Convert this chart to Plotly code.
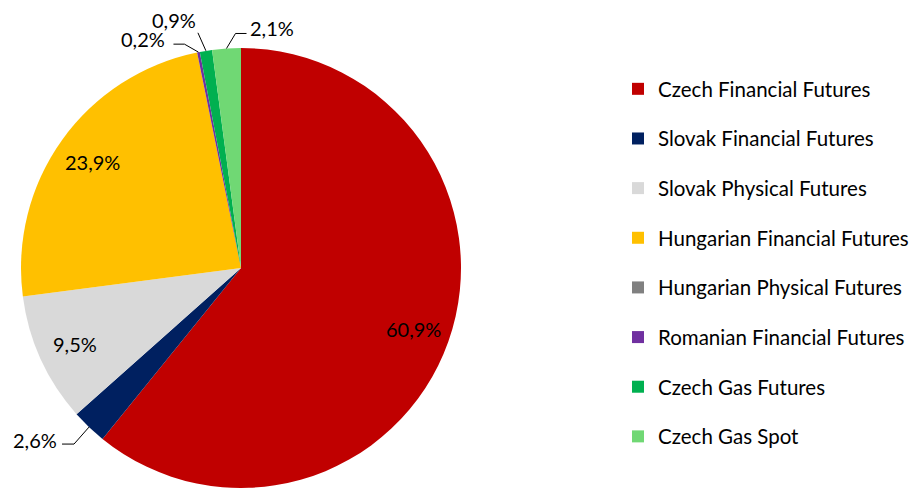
import math
import plotly.graph_objects as go

# ---- data ----
labels = ["Czech Financial Futures", "Slovak Financial Futures", "Slovak Physical Futures",
          "Hungarian Financial Futures", "Hungarian Physical Futures", "Romanian Financial Futures",
          "Czech Gas Futures", "Czech Gas Spot"]
values = [60.9, 2.6, 9.5, 23.9, 0.0, 0.2, 0.9, 2.1]
colors = ["#C00000", "#002060", "#D9D9D9", "#FFC000", "#808080", "#7030A0", "#00B050", "#70D874"]

# ---- layout params (pixels) ----
W, H = 917, 488
CX, CY, R = 241, 268, 220
FONT = "Lato"
FS = 20
LFS = 20.5
INSIDE_FRAC = 0.83
# outside label geometry relative to the slice edge point: elbow, end of leader, text centre
outside = {
    1: dict(elbow=(-15, 17), end=(-27, 17), text=(-54, 13)),
    5: dict(elbow=(-14, -8), end=(-25, -8), text=(-55, -13)),
    6: dict(elbow=(-8, -18), end=(-8, -18), text=(-32, -31)),
    7: dict(elbow=(9, -15), end=(20, -15), text=(45, -20)),
}

def px(x, y):
    return x / W, 1 - y / H

fig = go.Figure()
fig.add_trace(go.Pie(
    labels=labels, values=values, sort=False, direction="clockwise", rotation=0,
    marker=dict(colors=colors, line=dict(width=0)), textinfo="none", showlegend=False,
    domain=dict(x=[(CX - R) / W, (CX + R) / W], y=[1 - (CY + R) / H, 1 - (CY - R) / H]),
))

# legend via dummy traces
for lab, col in zip(labels, colors):
    fig.add_trace(go.Scatter(x=[None], y=[None], mode="markers", name=lab, legendgroup=lab,
                             marker=dict(symbol="square", size=12, color=col)))

total = sum(values)
cum = 0.0
annotations, shapes = [], []
for i, v in enumerate(values):
    mid = (cum + v / 2) / total * 2 * math.pi
    cum += v
    if v <= 0:
        continue
    txt = f"{v:.1f}".replace(".", ",") + "%"
    s, c = math.sin(mid), math.cos(mid)
    if i in outside:
        ex, ey = CX + R * s, CY - R * c
        o = outside[i]
        p0 = px(ex, ey)
        p1 = px(ex + o["elbow"][0], ey + o["elbow"][1])
        p2 = px(ex + o["end"][0], ey + o["end"][1])
        shapes.append(dict(type="path", xref="paper", yref="paper",
                           path=f"M {p0[0]},{p0[1]} L {p1[0]},{p1[1]} L {p2[0]},{p2[1]}",
                           line=dict(color="#000000", width=1)))
        tx, ty = px(ex + o["text"][0], ey + o["text"][1])
    else:
        tx, ty = px(CX + INSIDE_FRAC * R * s, CY - INSIDE_FRAC * R * c)
    annotations.append(dict(x=tx, y=ty, xref="paper", yref="paper", text=txt, showarrow=False,
                            xanchor="center", yanchor="middle",
                            font=dict(family=FONT, size=FS, color="#000000")))

fig.update_layout(
    width=W, height=H, margin=dict(l=0, r=0, t=0, b=0),
    paper_bgcolor="white", plot_bgcolor="white",
    xaxis=dict(visible=False), yaxis=dict(visible=False),
    annotations=annotations, shapes=shapes,
    legend=dict(x=(658 - 40) / W, xanchor="left", y=1 - 69 / H, yanchor="top",
                font=dict(family=FONT, size=LFS, color="#000000"),
                tracegroupgap=20.0, bgcolor="rgba(0,0,0,0)"),
    showlegend=True,
)
fig.write_html("out.html", config={"displayModeBar": False},
               post_script="document.body.style.margin='0';document.body.style.overflow='hidden';")
